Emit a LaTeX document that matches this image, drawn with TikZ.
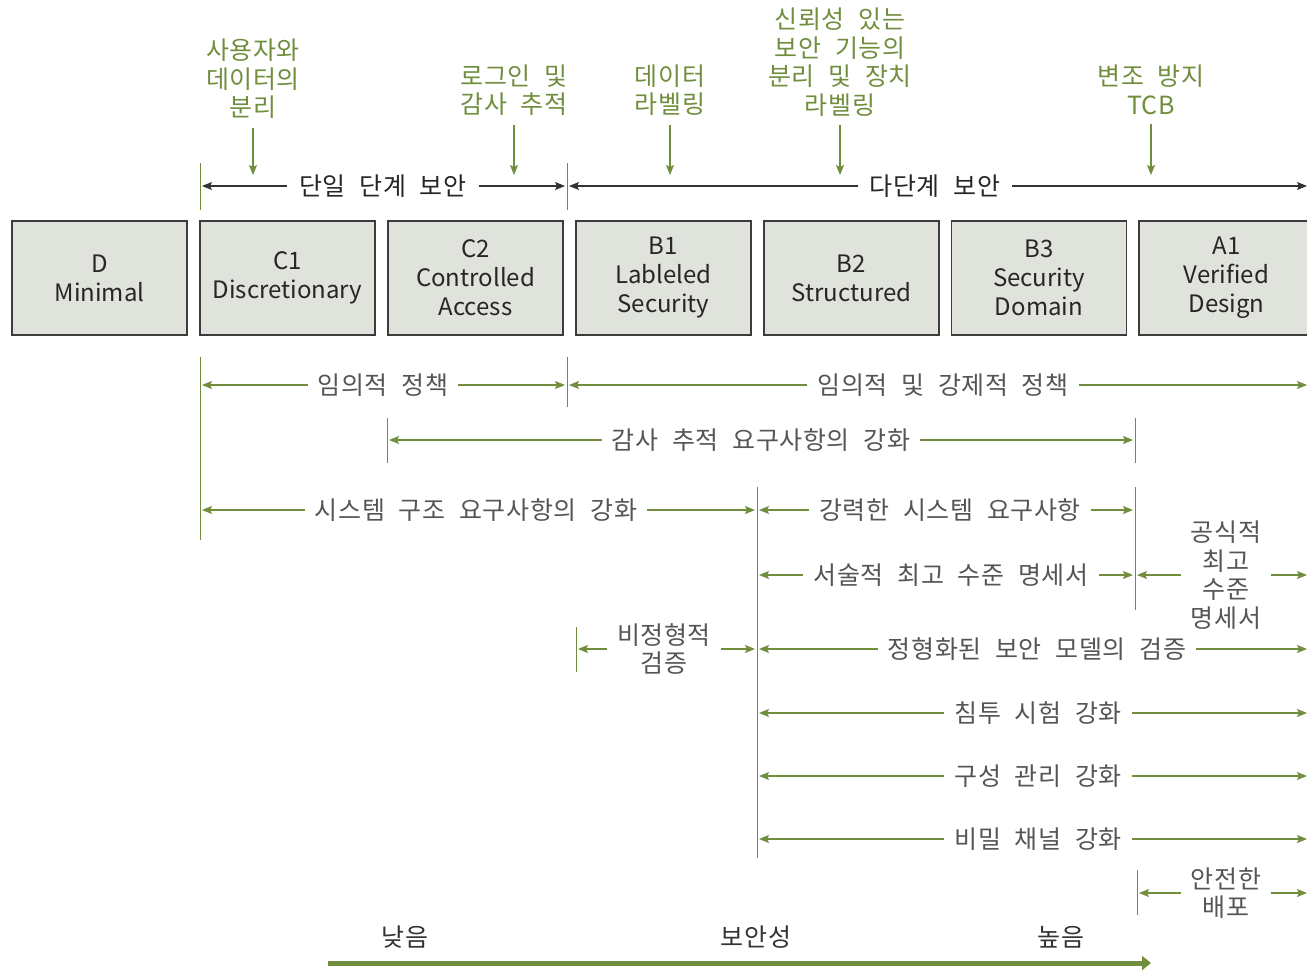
\documentclass[tikz,border=0pt]{standalone}
\usepackage{fontspec}
\setmainfont{Noto Sans CJK KR}
\newfontfamily\krfont[LetterSpace=2.5,WordSpace=2.2]{Noto Sans CJK KR}
\usetikzlibrary{arrows.meta}

\definecolor{lgreen}{RGB}{112,142,62}
\definecolor{tgrey}{RGB}{85,85,85}
\definecolor{boxfill}{RGB}{224,227,219}
\definecolor{boxline}{RGB}{60,60,60}

\begin{document}
\begin{tikzpicture}[x=1pt,y=-1pt,font=\fontsize{24}{29}\selectfont]
        \tikzstyle{level}=[draw=boxline,fill=boxfill,line width=1.2pt,minimum width=175pt,minimum height=114pt,align=center,text=black!85,inner sep=0pt]
        \tikzstyle{note}=[text=lgreen,align=center,inner sep=0pt,font=\krfont\fontsize{25}{28.5}\selectfont]
        \tikzstyle{req}=[text=tgrey,align=center,inner xsep=10pt,inner ysep=0pt,font=\krfont\fontsize{25}{28.5}\selectfont]
        \tikzstyle{tiertext}=[text=black!85,inner xsep=12pt,inner ysep=0pt,font=\krfont\fontsize{25}{28.5}\selectfont]
        \tikzstyle{scaletext}=[text=black!80,font=\krfont\fontsize{25}{28.5}\selectfont]
        \tikzstyle{span}=[draw=lgreen,line width=1.1pt,-{Stealth[length=10pt,width=8pt,inset=2pt]}]
        \tikzstyle{tier}=[draw=black!80,line width=1.1pt,-{Stealth[length=10pt,width=8pt,inset=2pt]}]
        \tikzstyle{pointer}=[draw=lgreen,line width=1.1pt,shorten <=9pt,-{Stealth[length=10pt,width=8pt,inset=2pt]}]
        \tikzstyle{tick}=[draw=lgreen,line width=1pt]

        \useasboundingbox (0,0) rectangle (1307,972);

        % class boxes
        \foreach \name/\x/\txt in {D/99.5/{D\\Minimal}, C1/287.5/{C1\\Discretionary}, C2/475.5/{C2\\Controlled\\Access},
                B1/663.5/{B1\\Lableled\\Security}, B2/851.5/{B2\\Structured}, B3/1039/{B3\\Security\\Domain}, A1/1226.5/{A1\\Verified\\Design}}
                \node[level] (L-\name) at (\x,278) {\txt};

        % features added at each class
        \foreach \nm/\x/\y/\txt in {sep/253/79/{사용자와\\데이터의\\분리}, log/514/90/{로그인 및\\감사 추적}, lab/670/90/{데이터\\라벨링},
                trust/840/62/{신뢰성 있는\\보안 기능의\\분리 및 장치\\라벨링}, tcb/1151/90/{변조 방지\\TCB}}
        {
                \node[note] (N-\nm) at (\x,\y) {\txt};
                \coordinate (P-\nm) at (\x,175);
                \draw[pointer] (N-\nm) -- (P-\nm);
        }

        % single / multi level
        \draw[tick] (200,163) -- (200,210);
        \draw[tick] (567,163) -- (567,210);
        \node[tiertext] (T-single) at (383,186) {단일 단계 보안};
        \node[tiertext] (T-multi) at (935,186) {다단계 보안};
        \coordinate (T-single-l) at (202,186);
        \coordinate (T-single-r) at (565,186);
        \coordinate (T-multi-l) at (569,186);
        \coordinate (T-multi-r) at (1307,186);
        \draw[tier] (T-single) -- (T-single-l);
        \draw[tier] (T-single) -- (T-single-r);
        \draw[tier] (T-multi) -- (T-multi-l);
        \draw[tier] (T-multi) -- (T-multi-r);

        % requirement ticks
        \foreach \x/\a/\b in {200/357/540, 567/357/407, 387/418/463, 1135/418/463, 757/487/858, 1135/487/610, 576/627/672, 1137/870/915}
                \draw[tick] (\x,\a) -- (\x,\b);

        % requirements
        \foreach \nm/\x/\y/\l/\r/\txt in {dac/383/385/202/565/{임의적 정책}, mac/943/385/569/1307/{임의적 및 강제적 정책},
                aud/761/440/389/1133/{감사 추적 요구사항의 강화}, sys/476/510/202/755/{시스템 구조 요구사항의 강화},
                str/950/510/759/1133/{강력한 시스템 요구사항}, dts/951/575/759/1133/{서술적 최고 수준 명세서},
                fts/1226/575/1137/1307/{공식적\\최고\\수준\\명세서}, inf/664/649/578/755/{비정형적\\검증},
                frm/1037/649/759/1307/{정형화된 보안 모델의 검증}, pen/1038/713/759/1307/{침투 시험 강화},
                cfg/1038/776/759/1307/{구성 관리 강화}, cov/1038/839/759/1307/{비밀 채널 강화},
                dis/1226/893/1139/1307/{안전한\\배포}}
        {
                \node[req] (R-\nm) at (\x,\y) {\txt};
                \coordinate (R-\nm-l) at (\l,\y);
                \coordinate (R-\nm-r) at (\r,\y);
                \draw[span] (R-\nm) -- (R-\nm-l);
                \draw[span] (R-\nm) -- (R-\nm-r);
        }

        % security scale
        \node[scaletext] (S-low) at (405,937) {낮음};
        \node[scaletext] (S-mid) at (756,937) {보안성};
        \node[scaletext] (S-high) at (1061,937) {높음};
        \coordinate (S-from) at (328,963);
        \coordinate (S-to) at (1151,963);
        \draw[draw=lgreen,line width=5pt,-{Triangle[length=9pt,width=14pt]}] (S-from) -- (S-to);
\end{tikzpicture}
\end{document}
